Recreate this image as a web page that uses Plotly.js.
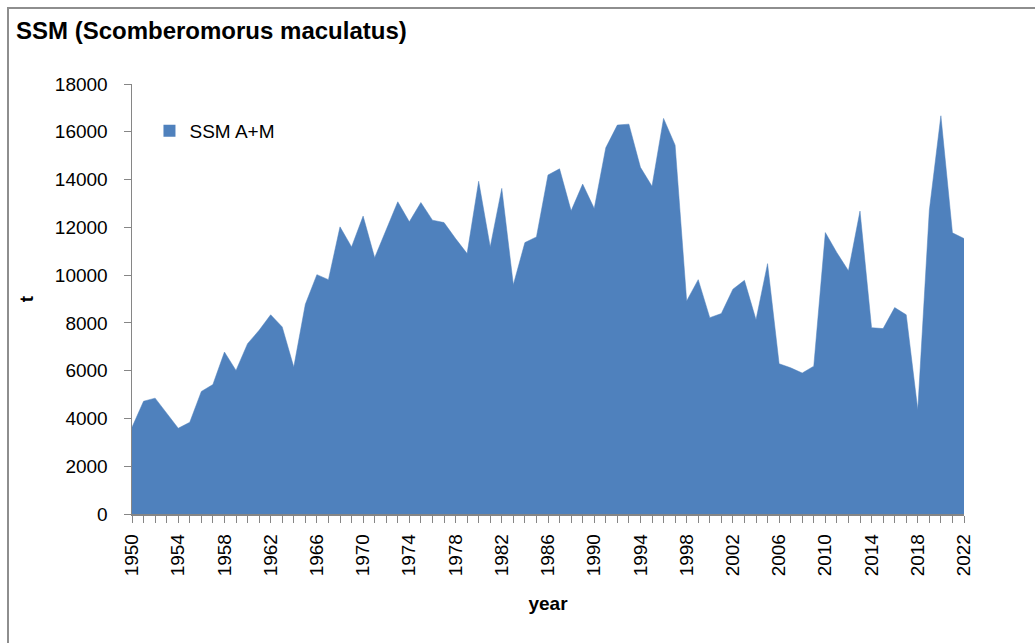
<!DOCTYPE html>
<html>
<head>
<meta charset="utf-8">
<script src="https://cdn.plot.ly/plotly-3.0.1.min.js"></script>
<style>
  html, body { margin: 0; padding: 0; background: #fff; }
  #wrap { position: relative; width: 1035px; height: 643px; }
  #chart { position: absolute; left: 0; top: 0; width: 1035px; height: 643px; }
  #frame { position: absolute; left: 7px; top: 7px; width: 1028px; height: 636px;
           border-left: 2px solid #8e8e8e; border-top: 2px solid #8e8e8e; pointer-events: none; box-sizing: border-box; }
</style>
</head>
<body>
<div id="wrap">
  <div id="chart"></div>
  <div id="frame"></div>
</div>
<script>
const years = [];
for (let y = 1950; y <= 2022; y++) years.push(y);

const catches = [
  3630, 4720, 4850, 4220, 3590, 3840, 5130, 5420, 6780, 6010,
  7130, 7690, 8340, 7830, 6150, 8780, 10020, 9810, 12020, 11180,
  12470, 10730, 11880, 13070, 12230, 13040, 12300, 12200, 11530, 10900,
  13930, 11180, 13630, 9600, 11360, 11600, 14190, 14450, 12690, 13810,
  12790, 15330, 16280, 16320, 14510, 13720, 16560, 15440, 8920, 9810,
  8220, 8390, 9410, 9780, 8130, 10480, 6290, 6120, 5900, 6190,
  11780, 10940, 10180, 12680, 7800, 7760, 8640, 8340, 4360, 12720,
  16670, 11770, 11530
];

const seriesName = "SSM A+M";
const chartTitle = "SSM (Scomberomorus maculatus)";
const xTitle = "year";
const yTitle = "t";

const fontFam = "Liberation Sans, Arial, sans-serif";
const axisGrey = "#868686";
const fillBlue = "#4f81bd";

const areaTrace = {
  x: years,
  y: catches,
  type: "scatter",
  mode: "lines",
  fill: "tozeroy",
  fillcolor: fillBlue,
  line: { color: fillBlue, width: 0.5 },
  name: seriesName,
  showlegend: false,
  legendgroup: "a"
};

// legend-only entry so the key is a filled square like the original
const legendTrace = {
  x: [null],
  y: [null],
  type: "bar",
  marker: { color: fillBlue },
  name: seriesName,
  showlegend: true,
  legendgroup: "a"
};

const layout = {
  width: 1035,
  height: 643,
  margin: { l: 132, r: 71, t: 84, b: 129, pad: 0 },
  paper_bgcolor: "#ffffff",
  plot_bgcolor: "#ffffff",
  font: { family: fontFam, size: 19, color: "#000" },
  title: {
    text: "<b>" + chartTitle + "</b>",
    font: { family: fontFam, size: 24, color: "#000" },
    x: 16 / 1035, xanchor: "left", xref: "container",
    y: 1 - 31 / 643, yanchor: "middle", yref: "container"
  },
  showlegend: true,
  legend: {
    x: 0.021, y: 0.935, xanchor: "left", yanchor: "top",
    bgcolor: "rgba(0,0,0,0)",
    font: { family: fontFam, size: 19, color: "#000" }
  },
  xaxis: {
    range: [1950, 2022],
    tick0: 1950, dtick: 4,
    tickangle: -90,
    ticks: "outside", ticklen: 7, tickcolor: axisGrey, tickwidth: 1,
    minor: { dtick: 1, ticks: "outside", ticklen: 7, tickcolor: axisGrey, tickwidth: 1 },
    showline: true, linecolor: axisGrey, linewidth: 1.5,
    showgrid: false, zeroline: false,
    tickfont: { family: fontFam, size: 19, color: "#000" },
    ticklabelstandoff: 4,
    title: { text: "<b>" + xTitle + "</b>", font: { family: fontFam, size: 19, color: "#000" }, standoff: 21 }
  },
  yaxis: {
    range: [0, 18000],
    dtick: 2000,
    ticks: "outside", ticklen: 7, tickcolor: axisGrey, tickwidth: 1,
    showline: true, linecolor: axisGrey, linewidth: 1.5,
    showgrid: false, zeroline: false,
    tickformat: "d",
    tickfont: { family: fontFam, size: 19, color: "#000" },
    ticklabelstandoff: 12,
    title: { text: "<b>" + yTitle + "</b>", font: { family: fontFam, size: 19, color: "#000" }, standoff: 16 }
  }
};

Plotly.newPlot("chart", [areaTrace, legendTrace], layout, { displayModeBar: false, staticPlot: true });
</script>
</body>
</html>
